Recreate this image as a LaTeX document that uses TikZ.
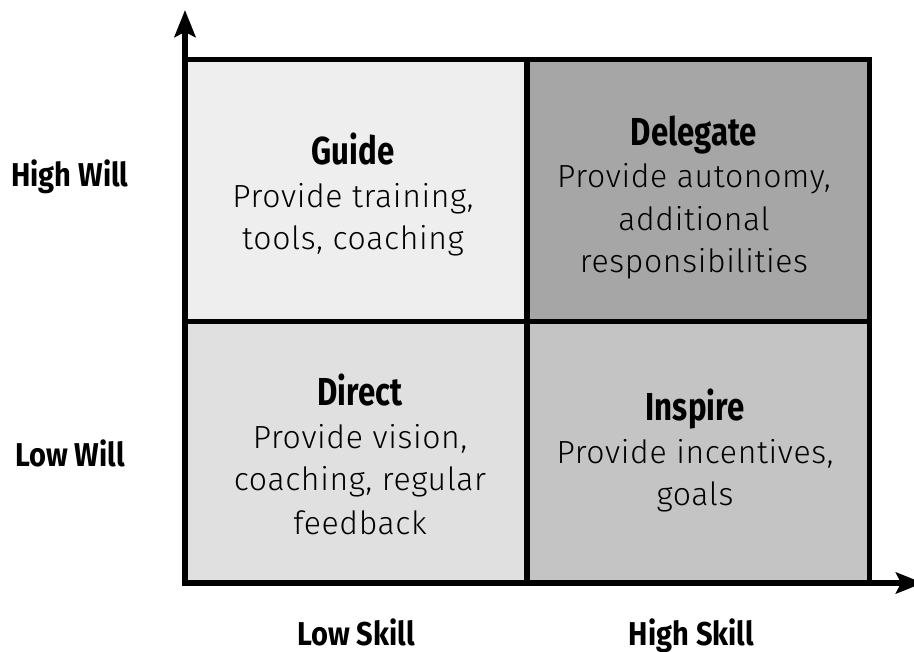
\documentclass[tikz,border=0pt]{standalone}
\usepackage{fontspec}
\usetikzlibrary{arrows.meta}
\setmainfont{Fira Sans}
\newfontfamily\ttlfont{Fira Sans}[FakeStretch=0.8]
\newfontfamily\sidefont{Fira Sans}[FakeStretch=0.88]
\newfontfamily\bodyfont{Fira Sans Light}[LetterSpace=2]
\definecolor{qguide}{HTML}{EEEEEE}
\definecolor{qdeleg}{HTML}{A6A6A7}
\definecolor{qdirect}{HTML}{E0E0E0}
\definecolor{qinspire}{HTML}{C4C4C4}
\tikzset{
  quad/.style={draw=black, line width=5.5pt, inner sep=0pt, outer sep=0pt, rectangle},
  ttl/.style={anchor=base, inner sep=0pt, font=\ttlfont\bfseries\fontsize{39}{42}\selectfont},
  body/.style={anchor=base, inner sep=0pt, text=black, font=\bodyfont\fontsize{32}{42}\selectfont},
  side/.style={anchor=base, inner sep=0pt, font=\sidefont\bfseries\fontsize{33}{36}\selectfont},
  axis/.style={line width=5.5pt, -{Stealth[length=27pt, width=21pt, inset=5pt]}}
}
\begin{document}
\begin{tikzpicture}[x=1pt, y=-1pt]
\clip (0,0) rectangle (914,652);
% quadrants
\node[quad, fill=qguide, minimum width=342pt, minimum height=262pt] (guideq) at (356,190.5) {};
\node[quad, fill=qdeleg, minimum width=342.5pt, minimum height=262pt] (delegq) at (698.25,190.5) {};
\node[quad, fill=qdirect, minimum width=342pt, minimum height=261.5pt] (directq) at (356,452.25) {};
\node[quad, fill=qinspire, minimum width=342.5pt, minimum height=261.5pt] (inspireq) at (698.25,452.25) {};
% axes
\coordinate (o) at (185,583);
\coordinate (ytip) at (185,10);
\coordinate (xtip) at (923,583);
\draw[axis] (o) -- (ytip);
\draw[axis] (o) -- (xtip);
% Guide
\node[ttl] (gt) at (353,165) {Guide};
\node[body] (g1) at (353,207.5) {Provide training,};
\node[body] (g2) at (353,250) {tools, coaching};
% Delegate
\node[ttl] (dt) at (694,146) {Delegate};
\node[body] (d1) at (694,188) {Provide autonomy,};
\node[body] (d2) at (694,231) {additional};
\node[body] (d3) at (694,273) {responsibilities};
% Direct
\node[ttl] (rt) at (360,406) {Direct};
\node[body] (r1) at (360,449) {Provide vision,};
\node[body] (r2) at (360,491) {coaching, regular};
\node[body] (r3) at (360,534) {feedback};
% Inspire
\node[ttl] (it) at (695,421) {Inspire};
\node[body] (i1) at (695,464) {Provide incentives,};
\node[body] (i2) at (695,506) {goals};
% side labels
\node[side] (hw) at (70,187) {High Will};
\node[side] (lw) at (70,467) {Low Will};
\node[side] (ls) at (356,645) {Low Skill};
\node[side] (hs) at (691.5,645) {High Skill};
\end{tikzpicture}
\end{document}
